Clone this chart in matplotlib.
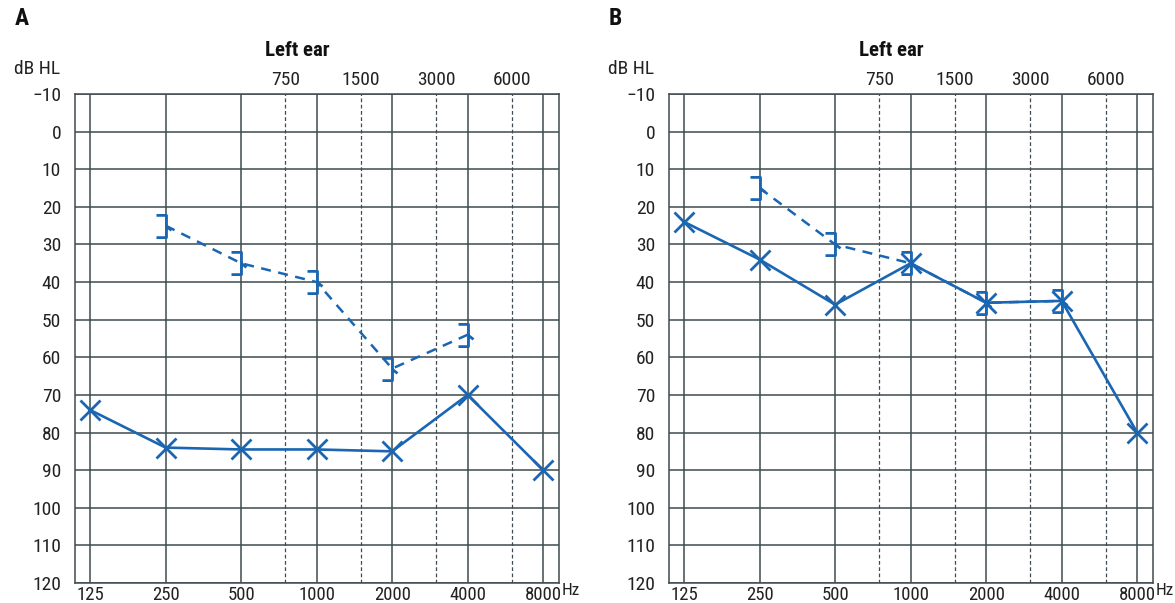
import numpy as np
import matplotlib
matplotlib.use("Agg")
import matplotlib.pyplot as plt
from matplotlib.path import Path
from matplotlib.transforms import blended_transform_factory

plt.rcParams['font.family'] = ['Liberation Sans Narrow', 'DejaVu Sans Condensed',
                               'Roboto Condensed', 'Liberation Sans', 'DejaVu Sans']

# audiogram data (dB HL)
freqs = [125, 250, 500, 1000, 2000, 4000, 8000]
freq_labels = ['125', '250', '500', '1000', '2000', '4000', '8000']
mid_freqs = [750, 1500, 3000, 6000]
mid_labels = ['750', '1500', '3000', '6000']
db_ticks = list(range(-10, 121, 10))

bone_freqs = [250, 500, 1000, 2000, 4000]

a_air = [74, 84, 84.5, 84.5, 85, 70, 90]
a_bone = [25, 35, 40, 63, 54]

b_air = [24, 34, 46, 35, 45.5, 45, 80]
b_bone = [15, 30, 35, 45.5, 45]

panels = [('A', a_air, a_bone), ('B', b_air, b_bone)]

blue = '#1a66b2'
grid_c = '#3f4b50'
txt_c = '#222222'

# "]" bracket marker for masked bone conduction, left ear
bracket = Path([(-0.9, 1), (0, 1), (0, -1), (-0.9, -1), (0, 0), (0.45, -0.35)],
               [Path.MOVETO, Path.LINETO, Path.LINETO, Path.LINETO, Path.MOVETO, Path.LINETO])


def lx(f):
    return np.log2(np.asarray(f, dtype=float) / 125.0)


fig = plt.figure(figsize=(11.75, 6.03), dpi=100)
lefts = [75 / 1175, 669 / 1175]

for (name, air, bone), left in zip(panels, lefts):
    ax = fig.add_axes([left, 1 - 583 / 603, 484 / 1175, 489 / 603])
    ax.set_xlim(-0.2, 6.21)
    ax.set_ylim(120, -10)

    for f in freqs:
        ax.axvline(lx(f), color=grid_c, lw=1.1, zorder=1)
    for f in mid_freqs:
        ax.axvline(lx(f), color=grid_c, lw=0.9, ls=(0, (3, 2)), zorder=1)
    for d in db_ticks:
        ax.axhline(d, color=grid_c, lw=1.1, zorder=1)
    for s in ax.spines.values():
        s.set_color(grid_c)
        s.set_linewidth(1.1)

    ax.plot(lx(bone_freqs), bone, color=blue, lw=1.8, ls=(0, (4, 3)),
            marker=bracket, ms=16, mew=2, mfc='none', mec=blue, zorder=3)
    ax.plot(lx(freqs), air, color=blue, lw=1.9, marker='x', ms=15, mew=2,
            zorder=4)

    ax.set_xticks(lx(freqs))
    ax.set_xticklabels(freq_labels)
    ax.set_yticks(db_ticks)
    ax.set_yticklabels([('\u2212' + str(-d)) if d < 0 else str(d) for d in db_ticks])
    ax.tick_params(length=0, labelsize=14, colors=txt_c, pad=10)
    ax.tick_params(axis='x', pad=2, labelsize=13.5)

    tr = blended_transform_factory(ax.transData, ax.transAxes)
    for f, lab in zip(mid_freqs, mid_labels):
        ax.text(lx(f), 1.01, lab, transform=tr, ha='center', va='bottom',
                fontsize=14, color=txt_c)
    ax.text(lx(8000) + 0.25, 0.0, 'Hz', transform=tr, ha='left', va='top',
            fontsize=12.5, color=txt_c)
    ax.text(2.75, 1.07, 'Left ear', transform=tr, ha='center', va='bottom',
            fontsize=15, fontweight='bold', color='#111111')
    ax.text(-0.03, 1.033, 'dB HL', transform=ax.transAxes, ha='right',
            va='bottom', fontsize=14, color=txt_c)
    ax.text(-0.125, 1.13, name, transform=ax.transAxes, ha='left',
            va='bottom', fontsize=17, fontweight='bold', color='#111111')

fig.savefig('out.png', dpi=100)
